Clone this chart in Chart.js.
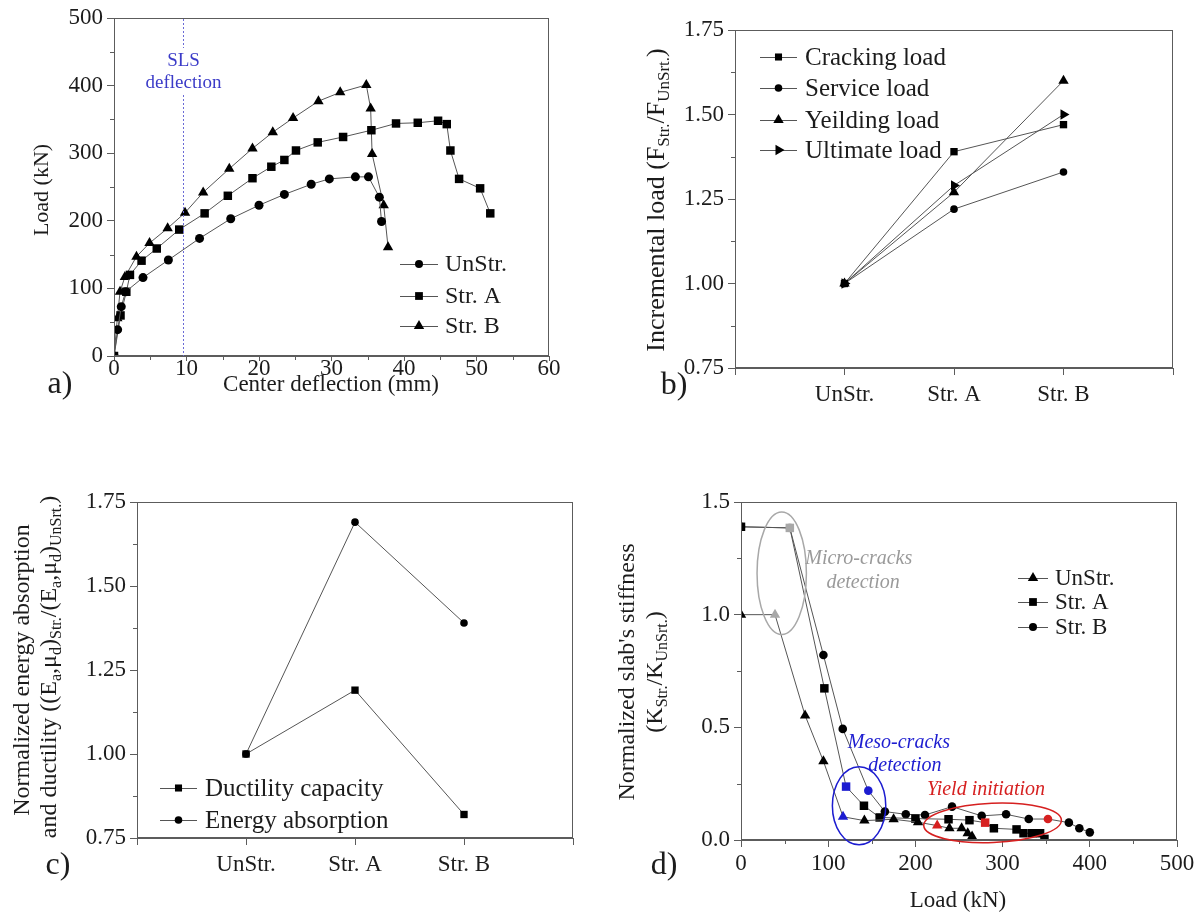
<!DOCTYPE html>
<html>
<head>
<meta charset="utf-8">
<title>Slab test results</title>
<script src="https://cdn.jsdelivr.net/npm/chart.js"></script>
<style>
  body { margin: 0; background: #fff; }
  #wrap { position: relative; width: 1200px; height: 916px; }
  canvas { position: absolute; }
</style>
</head>
<body>
<div id="wrap">
  <canvas id="ca" width="600" height="430" style="left:0;top:0"></canvas>
  <canvas id="cb" width="600" height="430" style="left:600px;top:0"></canvas>
  <canvas id="cc" width="600" height="461" style="left:0;top:455px"></canvas>
  <canvas id="cd" width="600" height="461" style="left:600px;top:455px"></canvas>
</div>
<script>
// a) load vs center deflection (mm, kN)
var aUnStrX = [0, 0.5, 1.0, 1.6, 4.0, 7.5, 11.8, 16.1, 20.0, 23.5, 27.2, 29.7, 33.3, 35.1, 36.6, 36.9];
var aUnStrY = [0, 39, 73, 95, 116, 142, 174, 203, 223, 239, 254, 262, 265, 265, 235, 199];
var aStrAX = [0, 0.9, 1.7, 2.2, 3.8, 5.9, 9.0, 12.5, 15.7, 19.1, 21.7, 23.5, 25.1, 28.1, 31.6, 35.5, 38.9, 41.9, 44.7, 45.9, 46.4, 47.6, 50.5, 51.9];
var aStrAY = [0, 60, 95, 120, 141, 159, 187, 211, 237, 263, 280, 290, 304, 316, 324, 334, 344, 345, 348, 343, 304, 262, 248, 211];
var aStrBX = [0, 0.46, 0.83, 1.5, 3.1, 4.9, 7.4, 9.8, 12.3, 15.9, 19.1, 21.9, 24.7, 28.2, 31.2, 34.8, 35.4, 35.6, 37.2, 37.8];
var aStrBY = [0, 56, 95, 117, 147, 167, 189, 212, 242, 277, 307, 331, 352, 377, 390, 401, 366, 299, 223, 161];
var slsDeflection = 9.5;

// b) incremental load
var categories = ['UnStr.', 'Str. A', 'Str. B'];
var bCracking = [1.00, 1.39, 1.47];
var bService = [1.00, 1.22, 1.33];
var bYielding = [1.00, 1.27, 1.60];
var bUltimate = [1.00, 1.29, 1.50];

// c) normalized energy absorption and ductility
var cDuctility = [1.00, 1.19, 0.82];
var cEnergy = [1.00, 1.69, 1.39];

// d) normalized stiffness vs load (kN)
var dUnStrX = [0, 39, 73.5, 94.5, 117, 141.5, 175, 203, 225, 239, 253, 260, 265];
var dUnStrY = [1.00, 1.00, 0.553, 0.35, 0.103, 0.086, 0.092, 0.079, 0.064, 0.052, 0.052, 0.03, 0.015];
var dStrAX = [0, 56, 95.6, 120.5, 141, 159, 200, 238, 262, 280, 290, 316, 324, 334, 343, 348];
var dStrAY = [1.39, 1.385, 0.673, 0.237, 0.152, 0.10, 0.095, 0.092, 0.088, 0.077, 0.052, 0.047, 0.03, 0.03, 0.03, 0.005];
var dStrBX = [0, 56, 94.5, 116.7, 146, 165, 189, 211, 242, 276, 304, 330, 352, 376, 388, 400];
var dStrBY = [1.39, 1.385, 0.821, 0.493, 0.219, 0.126, 0.114, 0.111, 0.148, 0.107, 0.114, 0.093, 0.093, 0.077, 0.052, 0.034];

var FONT = '"Liberation Serif", "Times New Roman", serif';
var AXIS = '#5c5c5c';
var INK = '#1c1c1c';
var LINE = '#555';
var GRAY = '#a8a8a8', BLUE = '#1c1cd0', RED = '#d62020';

// which points of panel d are highlighted (index -> colour)
var dMarksUnStr = {1: GRAY, 4: BLUE, 8: RED};
var dMarksStrA = {1: GRAY, 3: BLUE, 9: RED};
var dMarksStrB = {1: GRAY, 4: BLUE, 12: RED};

function pts(xs, ys) {
  return xs.map(function (x, i) { return {x: x, y: ys[i]}; });
}
function catPts(vals) {
  return vals.map(function (v, i) { return {x: i + 1, y: v}; });
}

function series(label, data, style, r, marks, rot) {
  var col = function (c) { return (marks && marks[c.dataIndex]) || '#000'; };
  return {
    label: label, data: data, showLine: true, tension: 0,
    borderColor: LINE, borderWidth: 1,
    pointStyle: style, pointRadius: r, pointHoverRadius: r, pointRotation: rot || 0,
    pointBorderWidth: 0, pointBackgroundColor: col, pointBorderColor: col
  };
}

function axis(min, max, step, fit, fmt, pad, tick) {
  return {
    type: 'linear', min: min, max: max, afterFit: fit,
    grid: { drawOnChartArea: false, color: AXIS, tickLength: tick || 7 },
    border: { color: AXIS, width: 1 },
    ticks: { stepSize: step, color: INK, padding: pad, autoSkip: false, maxRotation: 0,
             font: { family: FONT, size: 23 }, callback: fmt }
  };
}

function catAxis(fit) {
  var s = axis(0, 4, 1, fit, function (v) { return categories[v - 1] || ''; }, 6);
  s.afterBuildTicks = function (sc) {
    sc.ticks = [0, 1, 2, 3, 4].map(function (v) { return {value: v}; });
  };
  return s;
}

function marker(ctx, style, x, y, r) {
  ctx.beginPath();
  if (style === 'circle') {
    ctx.arc(x, y, r, 0, Math.PI * 2);
  } else if (style === 'rect') {
    var s = r * Math.SQRT1_2;
    ctx.rect(x - s, y - s, 2 * s, 2 * s);
  } else if (style === 'triangle') {
    ctx.moveTo(x, y - r);
    ctx.lineTo(x + r * 0.866, y + r * 0.5);
    ctx.lineTo(x - r * 0.866, y + r * 0.5);
  } else if (style === 'triRight') {
    ctx.moveTo(x + r, y);
    ctx.lineTo(x - r * 0.5, y + r * 0.866);
    ctx.lineTo(x - r * 0.5, y - r * 0.866);
  }
  ctx.closePath();
  ctx.fill();
}

// parts: [{t, size, dy, it}] drawn centred on x, baseline at y
function richText(ctx, parts, x, y, rotated, color) {
  ctx.save();
  ctx.translate(x, y);
  if (rotated) ctx.rotate(-Math.PI / 2);
  ctx.fillStyle = color || INK;
  ctx.textBaseline = 'alphabetic';
  ctx.textAlign = 'left';
  var total = 0;
  parts.forEach(function (p) {
    ctx.font = (p.it ? 'italic ' : '') + (p.size || 23) + 'px ' + FONT;
    p.w = ctx.measureText(p.t).width;
    total += p.w;
  });
  var cx = -total / 2;
  parts.forEach(function (p) {
    ctx.font = (p.it ? 'italic ' : '') + (p.size || 23) + 'px ' + FONT;
    ctx.fillText(p.t, cx, p.dy || 0);
    cx += p.w;
  });
  ctx.restore();
}

function decor(spec) {
  return {
    id: 'decor',
    afterDraw: function (chart) {
      var ctx = chart.ctx, a = chart.chartArea, xs = chart.scales.x, ys = chart.scales.y;
      ctx.save();
      ctx.strokeStyle = AXIS;
      ctx.lineWidth = 1;
      ctx.strokeRect(Math.round(a.left) + 0.5, Math.round(a.top) + 0.5,
                     Math.round(a.right - a.left) - 1, Math.round(a.bottom - a.top) - 1);
      ctx.beginPath();
      var v, p;
      if (spec.minorX) {
        for (v = xs.min + spec.minorX; v < xs.max; v += 2 * spec.minorX) {
          p = Math.round(xs.getPixelForValue(v)) + 0.5;
          ctx.moveTo(p, a.bottom); ctx.lineTo(p, a.bottom + 4);
        }
      }
      if (spec.minorY) {
        for (v = ys.min + spec.minorY; v < ys.max; v += 2 * spec.minorY) {
          p = Math.round(ys.getPixelForValue(v)) + 0.5;
          ctx.moveTo(a.left, p); ctx.lineTo(a.left - 4, p);
        }
      }
      ctx.stroke();

      if (spec.extra) spec.extra(chart, ctx);

      // legend
      var L = spec.legend;
      L.items.forEach(function (it, i) {
        var y = L.y[i];
        ctx.strokeStyle = LINE;
        ctx.beginPath();
        ctx.moveTo(L.x0, y + 0.5); ctx.lineTo(L.x1, y + 0.5);
        ctx.stroke();
        ctx.fillStyle = '#000';
        marker(ctx, it.style, (L.x0 + L.x1) / 2, y, it.r);
        ctx.font = L.size + 'px ' + FONT;
        ctx.fillStyle = INK;
        ctx.textBaseline = 'middle';
        ctx.textAlign = 'left';
        ctx.fillText(it.label, L.tx, y + 1);
      });

      spec.texts.forEach(function (t) {
        richText(ctx, t.parts, t.x, t.y, t.rot, t.color);
      });
      ctx.restore();
    }
  };
}

function baseOptions(area, W, H, xScale, yScale) {
  return {
    responsive: false, animation: false, devicePixelRatio: 1, events: [],
    layout: { padding: { top: area.top, right: W - area.right, bottom: 0, left: 0 } },
    plugins: { legend: { display: false }, tooltip: { enabled: false } },
    scales: { x: xScale, y: yScale }
  };
}

function fitters(area, H) {
  return {
    x: function (s) { s.height = H - area.bottom; },
    y: function (s) { s.width = area.left; }
  };
}

// ---------- a) ----------
var aArea = {left: 114, top: 18, right: 549, bottom: 356};
var fa = fitters(aArea, 430);
new Chart(document.getElementById('ca'), {
  type: 'line',
  data: { datasets: [
    series('UnStr.', pts(aUnStrX, aUnStrY), 'circle', 4.5),
    series('Str. A', pts(aStrAX, aStrAY), 'rect', 6),
    series('Str. B', pts(aStrBX, aStrBY), 'triangle', 6)
  ]},
  options: baseOptions(aArea, 600, 430,
    axis(0, 60, 10, fa.x, function (v) { return v; }, -6, 5),
    axis(0, 500, 100, fa.y, function (v) { return v; }, 4)),
  plugins: [decor({
    minorX: 5, minorY: 50,
    extra: function (chart, ctx) {
      var x = Math.round(chart.scales.x.getPixelForValue(slsDeflection)) + 0.5;
      var a = chart.chartArea;
      ctx.save();
      ctx.strokeStyle = '#6b6bd6';
      ctx.setLineDash([2, 2]);
      ctx.beginPath();
      ctx.moveTo(x, a.top + 1); ctx.lineTo(x, a.bottom);
      ctx.stroke();
      ctx.setLineDash([]);
      ctx.fillStyle = '#fff';
      ctx.fillRect(x - 40, 48, 80, 46);
      ctx.restore();
      richText(ctx, [{t: 'SLS', size: 19}], x, 66, false, '#3b3bc8');
      richText(ctx, [{t: 'deflection', size: 19}], x, 88, false, '#3b3bc8');
    },
    legend: { x0: 400, x1: 438, tx: 445, size: 24, y: [264, 296, 326], items: [
      {label: 'UnStr.', style: 'circle', r: 4}, {label: 'Str. A', style: 'rect', r: 5.5}, {label: 'Str. B', style: 'triangle', r: 6}
    ]},
    texts: [
      {parts: [{t: 'Load (kN)', size: 22}], x: 48, y: 190, rot: true},
      {parts: [{t: 'Center deflection (mm)', size: 23}], x: 331, y: 391},
      {parts: [{t: 'a)', size: 32}], x: 60, y: 393}
    ]
  })]
});

// ---------- b) ----------
var bArea = {left: 135, top: 30, right: 573, bottom: 368};
var fb = fitters(bArea, 430);
new Chart(document.getElementById('cb'), {
  type: 'line',
  data: { datasets: [
    series('Cracking load', catPts(bCracking), 'rect', 5.2),
    series('Service load', catPts(bService), 'circle', 3.8),
    series('Yeilding load', catPts(bYielding), 'triangle', 6),
    series('Ultimate load', catPts(bUltimate), 'triangle', 6, null, 90)
  ]},
  options: baseOptions(bArea, 600, 430, catAxis(fb.x),
    axis(0.75, 1.75, 0.25, fb.y, function (v) { return v.toFixed(2); }, 4)),
  plugins: [decor({
    minorY: 0.125,
    legend: { x0: 160, x1: 197, tx: 205, size: 25, y: [57, 88, 120, 150], items: [
      {label: 'Cracking load', style: 'rect', r: 5}, {label: 'Service load', style: 'circle', r: 3.8},
      {label: 'Yeilding load', style: 'triangle', r: 6}, {label: 'Ultimate load', style: 'triRight', r: 6}
    ]},
    texts: [
      {parts: [{t: 'Incremental load (F', size: 26}, {t: 'Str.', size: 17, dy: 5}, {t: '/F', size: 26},
               {t: 'UnSrt.', size: 17, dy: 5}, {t: ')', size: 26}], x: 64, y: 200, rot: true},
      {parts: [{t: 'b)', size: 32}], x: 74, y: 394}
    ]
  })]
});

// ---------- c) ----------
var cArea = {left: 137, top: 47, right: 573, bottom: 383};
var fc = fitters(cArea, 461);
new Chart(document.getElementById('cc'), {
  type: 'line',
  data: { datasets: [
    series('Ductility capacity', catPts(cDuctility), 'rect', 5.2),
    series('Energy absorption', catPts(cEnergy), 'circle', 3.8)
  ]},
  options: baseOptions(cArea, 600, 461, catAxis(fc.x),
    axis(0.75, 1.75, 0.25, fc.y, function (v) { return v.toFixed(2); }, 4)),
  plugins: [decor({
    minorY: 0.125,
    legend: { x0: 160, x1: 197, tx: 205, size: 25, y: [333, 365], items: [
      {label: 'Ductility capacity', style: 'rect', r: 5}, {label: 'Energy absorption', style: 'circle', r: 3.8}
    ]},
    texts: [
      {parts: [{t: 'Normalized energy absorption', size: 24}], x: 29, y: 215, rot: true},
      {parts: [{t: 'and ductility ((E', size: 24}, {t: 'a', size: 16, dy: 5}, {t: ',\u03bc', size: 24},
               {t: 'd', size: 16, dy: 5}, {t: ')', size: 24}, {t: 'Str.', size: 16, dy: 5},
               {t: '/(E', size: 24}, {t: 'a', size: 16, dy: 5}, {t: ',\u03bc', size: 24},
               {t: 'd', size: 16, dy: 5}, {t: ')', size: 24}, {t: 'UnSrt.', size: 16, dy: 5},
               {t: ')', size: 24}], x: 56, y: 212, rot: true},
      {parts: [{t: 'c)', size: 32}], x: 58, y: 419}
    ]
  })]
});

// ---------- d) ----------
var dArea = {left: 141, top: 47, right: 577, bottom: 385};
var fd = fitters(dArea, 461);
// annotation ellipses and notes in data units (kN, stiffness ratio)
var dEllipses = [
  {x: 46.7, y: 1.184, rx: 28.3, ry: 0.272, rot: 0, color: GRAY},
  {x: 135.4, y: 0.152, rx: 30.6, ry: 0.173, rot: 0, color: BLUE},
  {x: 288.5, y: 0.076, rx: 79, ry: 0.087, rot: -0.04, color: RED}
];
var dNotes = [
  {lines: ['Micro-cracks', 'detection'], x: [135, 140], y: [1.225, 1.12], color: '#9a9a9a'},
  {lines: ['Meso-cracks', 'detection'], x: [181, 188], y: [0.41, 0.305], color: BLUE},
  {lines: ['Yield initiation'], x: [281], y: [0.198], color: RED}
];
new Chart(document.getElementById('cd'), {
  type: 'line',
  data: { datasets: [
    series('UnStr.', pts(dUnStrX, dUnStrY), 'triangle', 6, dMarksUnStr),
    series('Str. A', pts(dStrAX, dStrAY), 'rect', 6, dMarksStrA),
    series('Str. B', pts(dStrBX, dStrBY), 'circle', 4.3, dMarksStrB)
  ]},
  options: baseOptions(dArea, 600, 461,
    axis(0, 500, 100, fd.x, function (v) { return v; }, 3),
    axis(0, 1.5, 0.5, fd.y, function (v) { return v.toFixed(1); }, 4)),
  plugins: [decor({
    minorX: 50, minorY: 0.25,
    extra: function (chart, ctx) {
      var xs = chart.scales.x, ys = chart.scales.y;
      var kx = xs.getPixelForValue(1) - xs.getPixelForValue(0);
      var ky = ys.getPixelForValue(0) - ys.getPixelForValue(1);
      ctx.save();
      ctx.lineWidth = 1.5;
      dEllipses.forEach(function (e) {
        ctx.strokeStyle = e.color;
        ctx.beginPath();
        ctx.ellipse(xs.getPixelForValue(e.x), ys.getPixelForValue(e.y), e.rx * kx, e.ry * ky, e.rot, 0, Math.PI * 2);
        ctx.stroke();
      });
      ctx.restore();
      dNotes.forEach(function (n) {
        n.lines.forEach(function (t, i) {
          richText(ctx, [{t: t, size: 20, it: true}], xs.getPixelForValue(n.x[i]), ys.getPixelForValue(n.y[i]), false, n.color);
        });
      });
    },
    legend: { x0: 418, x1: 448, tx: 455, size: 23, y: [123, 147, 172], items: [
      {label: 'UnStr.', style: 'triangle', r: 6}, {label: 'Str. A', style: 'rect', r: 5.5}, {label: 'Str. B', style: 'circle', r: 4}
    ]},
    texts: [
      {parts: [{t: 'Normalized slab\'s stiffness', size: 24}], x: 34, y: 217, rot: true},
      {parts: [{t: '(K', size: 24}, {t: 'Str.', size: 16, dy: 5}, {t: '/K', size: 24},
               {t: 'UnSrt.', size: 16, dy: 5}, {t: ')', size: 24}], x: 62, y: 217, rot: true},
      {parts: [{t: 'Load (kN)', size: 23}], x: 358, y: 452},
      {parts: [{t: 'd)', size: 32}], x: 64, y: 419}
    ]
  })]
});
</script>
</body>
</html>
